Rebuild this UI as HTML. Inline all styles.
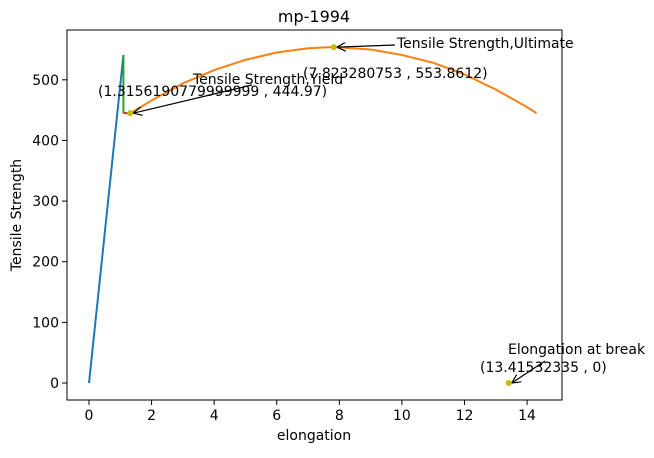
<!DOCTYPE html>
<html><head><meta charset="utf-8"><style>
body{margin:0;background:#fff}
text{font-family:"DejaVu Sans","Liberation Sans",sans-serif;font-size:14px;fill:#000}
</style></head><body>
<svg id="chart" width="654" height="453" xmlns="http://www.w3.org/2000/svg">
<defs><marker id="ah" viewBox="0 0 10 10" refX="10" refY="5" markerWidth="9" markerHeight="9" markerUnits="userSpaceOnUse" orient="auto-start-reverse"><path d="M0,0 L10,5 L0,10" fill="none" stroke="#000" stroke-width="1.3"/></marker></defs>
<g id="plot"></g>
</svg>
<script>
const xTicks=[0,2,4,6,8,10,12,14];
const yTicks=[0,100,200,300,400,500];
const elasticX=[0,1.1];
const elasticY=[0,541];
const plasticX=[1.3,2,3,4,5,6,7,7.82,9,10,11,12,13,14,14.3];
const plasticY=[444,466,494,516,533,545,552,554,550,541,528,509,484,455,445];
const yieldLineX=[1.1,1.1];
const yieldLineY=[541,445];
const offsetX=[1.1,1.32];
const offsetY=[445,445];
const pointsX=[1.3156,7.8233,13.4153];
const pointsY=[444.97,553.86,0];
const labels=["Tensile Strength,Yield","Tensile Strength,Ultimate","Elongation at break"];
const coords=["(1.3156190779999999 , 444.97)","(7.823280753 , 553.8612)","(13.41532335 , 0)"];

const L=67,R=562,T=30,B=400;
const sx=v=>89+v*31.29, sy=v=>383-v*0.6064;
const NS="http://www.w3.org/2000/svg";
const g=document.getElementById('plot');
function mk(t,a,p){const e=document.createElementNS(NS,t);for(const k in a)e.setAttribute(k,a[k]);(p||g).appendChild(e);return e;}
function line(xs,ys,c,name){
  const e=mk('polyline',{points:xs.map((x,i)=>sx(x)+','+sy(ys[i])).join(' '),fill:'none',stroke:c,'stroke-width':2,'stroke-linejoin':'round'});
  
  
}
line(elasticX,elasticY,'#1f77b4','elastic-line');
line(yieldLineX,yieldLineY,'#2ca02c','yield-vertical-line');
line(offsetX,offsetY,'#d62728','yield-offset-line');
line(plasticX,plasticY,'#ff7f0e','plastic-curve');
pointsX.forEach((x,i)=>{
  const c=mk('circle',{cx:sx(x),cy:sy(pointsY[i]),r:3,fill:'#bfbf00'});
  
  
});
const ann=[
 {tx:193,ty:84,cx:98,cy:96,ax:252,ay:85},
 {tx:397,ty:48,cx:303,cy:78,ax:395,ay:45},
 {tx:508,ty:354,cx:480,cy:372,ax:545,ay:361}
];
ann.forEach((a,i)=>{
  const ar=mk('line',{x1:a.ax,y1:a.ay,x2:sx(pointsX[i])+3,y2:sy(pointsY[i]),stroke:'#000','stroke-width':1.2,'marker-end':'url(#ah)'});
  
  
  const t=mk('text',{x:a.tx,y:a.ty});t.textContent=labels[i];
  
  
  const c=mk('text',{x:a.cx,y:a.cy});c.textContent=coords[i];
  
  
});
const fr=mk('rect',{x:L,y:T,width:R-L,height:B-T,fill:'none',stroke:'#000','stroke-width':1});


xTicks.forEach(v=>{
  mk('line',{x1:sx(v),x2:sx(v),y1:B,y2:B+5,stroke:'#000'});
  const t=mk('text',{x:sx(v),y:B+20,'text-anchor':'middle'});t.textContent=v;
  
  
});
yTicks.forEach(v=>{
  mk('line',{x1:L-5,x2:L,y1:sy(v),y2:sy(v),stroke:'#000'});
  const t=mk('text',{x:L-8,y:sy(v)+5,'text-anchor':'end'});t.textContent=v;
  
  
});
let t=mk('text',{x:314,y:440,'text-anchor':'middle'});t.textContent='elongation';


t=mk('text',{x:21,y:215,'text-anchor':'middle',transform:'rotate(-90 21 215)'});t.textContent='Tensile Strength';


t=mk('text',{x:314,y:22,'text-anchor':'middle'});t.textContent='mp-1994';t.style.fontSize='16px';


</script>
</body></html>
